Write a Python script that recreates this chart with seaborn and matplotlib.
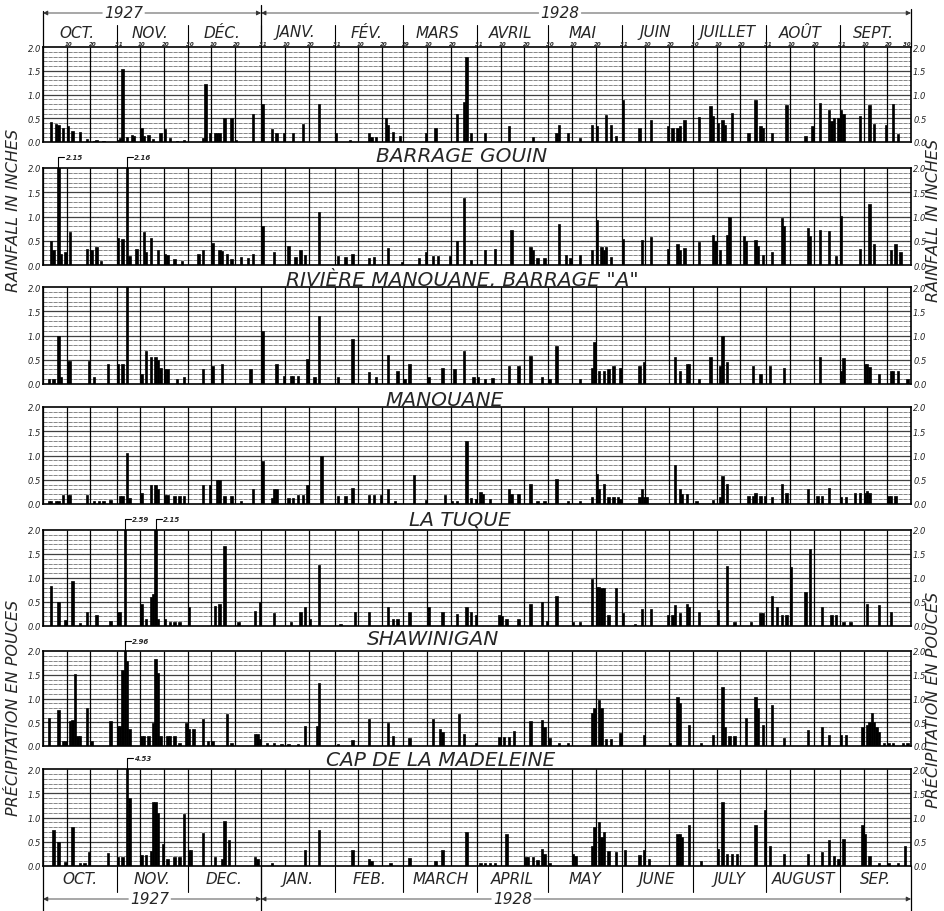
import matplotlib
matplotlib.use("Agg")
import matplotlib.pyplot as plt
import matplotlib.transforms as mtransforms
import numpy as np
import pandas as pd
import seaborn as sns

# day 0 = 1 Oct 1927 ... day 365 = 30 Sep 1928, values in inches
month_len = [31, 30, 31, 31, 29, 31, 30, 31, 30, 31, 31, 30]
months_fr = ["OCT.", "NOV.", "DÉC.", "JANV.", "FÉV.", "MARS", "AVRIL", "MAI",
             "JUIN", "JUILLET", "AOÛT", "SEPT."]
months_en = ["OCT.", "NOV.", "DEC.", "JAN.", "FEB.", "MARCH", "APRIL", "MAY",
             "JUNE", "JULY", "AUGUST", "SEP."]

top_station = [
    (3, .42), (5, .38), (6, .36), (8, .30), (10, .33), (12, .24), (15, .22), (18, .07),
    (21, .03), (22, .04), (25, .02), (31, .05), (32, .08), (33, 1.53), (35, .10), (37, .15),
    (38, .12), (41, .29), (42, .12), (44, .15), (46, .06), (49, .19), (51, .28), (53, .08),
    (56, .03), (59, .05), (67, .08), (68, 1.23), (70, .19), (72, .19), (73, .19), (74, .19),
    (76, .50), (79, .50), (81, .05), (88, .58), (92, .80), (96, .28), (98, .19), (101, .19),
    (105, .19), (109, .37), (116, .79), (123, .19), (129, .05), (137, .19), (138, .10),
    (140, .10), (144, .50), (145, .35), (147, .22), (150, .12), (161, .19), (165, .29),
    (174, .58), (177, .84), (178, 1.79), (180, .19), (186, .18), (196, .33), (206, .10),
    (216, .19), (217, .36), (221, .20), (226, .09), (231, .36), (233, .33), (237, .57),
    (239, .36), (241, .12), (244, .88), (251, .29), (256, .47), (263, .33), (265, .30),
    (267, .30), (268, .33), (270, .47), (276, .53), (281, .75), (282, .55), (284, .40),
    (286, .47), (287, .35), (290, .62), (297, .19), (300, .88), (302, .34), (303, .30),
    (307, .19), (313, .77), (321, .12), (324, .33), (327, .82), (331, .68), (332, .45),
    (333, .50), (335, .50), (336, .67), (337, .60), (344, .55), (348, .77), (350, .38),
    (355, .36), (358, .79), (360, .16),
]

barrage_gouin = [
    (3, .50), (4, .30), (6, 2.15), (7, .23), (9, .26), (11, .69), (18, .32), (20, .30),
    (22, .37), (24, .09), (31, .56), (33, .54), (35, 2.16), (36, .19), (39, .33), (42, .69),
    (43, .26), (45, .56), (48, .30), (51, .23), (52, .20), (55, .13), (58, .09), (65, .23),
    (67, .30), (71, .46), (74, .30), (75, .28), (77, .23), (79, .13), (83, .16), (86, .14),
    (88, .23), (92, .80), (97, .26), (103, .40), (106, .16), (108, .30), (110, .21),
    (116, 1.10), (124, .19), (127, .16), (130, .23), (137, .14), (139, .16), (145, .35),
    (151, .06), (158, .14), (161, .26), (164, .19), (166, .19), (171, .19), (174, .50),
    (177, 1.38), (180, .10), (186, .31), (190, .34), (197, .72), (205, .38), (206, .30),
    (208, .14), (211, .14), (217, .85), (220, .20), (222, .15), (226, .20), (231, .31),
    (233, .92), (235, .38), (236, .30), (237, .38), (239, .17), (244, .53), (252, .51),
    (256, .58), (263, .34), (267, .44), (268, .30), (270, .36), (276, .48), (282, .61),
    (283, .50), (285, .31), (288, .61), (289, 1.00), (295, .59), (296, .50), (300, .51),
    (301, .40), (303, .20), (307, .27), (311, .96), (312, .80), (322, .77), (323, .60),
    (327, .72), (331, .70), (334, .18), (336, 1.02), (344, .34), (348, 1.26), (350, .44),
    (357, .31), (359, .44), (361, .27),
]

manouane_barrage_a = [
    (2, .10), (4, .10), (6, 1.00), (7, .14), (10, .48), (11, .48), (19, .48), (21, .14),
    (27, .41), (31, .41), (33, .41), (35, 1.99), (41, .20), (43, .68), (45, .55), (47, .55),
    (48, .50), (49, .34), (51, .31), (52, .30), (56, .10), (59, .14), (67, .31), (71, .38),
    (75, .42), (87, .31), (92, 1.10), (98, .41), (101, .17), (104, .17), (105, .17),
    (107, .17), (111, .51), (114, .14), (116, 1.40), (124, .14), (130, .92), (137, .24),
    (140, .14), (145, .60), (149, .27), (152, .10), (154, .41), (162, .14), (168, .34),
    (173, .31), (177, .68), (181, .14), (183, .14), (186, .10), (189, .12), (196, .38),
    (200, .38), (205, .58), (210, .15), (213, .10), (216, .79), (226, .10), (231, .34),
    (232, .86), (234, .27), (236, .27), (238, .31), (240, .38), (243, .34), (251, .38),
    (253, .45), (266, .55), (268, .27), (271, .41), (272, .41), (276, .10), (281, .55),
    (285, .38), (286, .99), (288, .45), (299, .38), (302, .20), (306, .38), (312, .34),
    (327, .55), (336, .27), (337, .53), (346, .42), (347, .42), (348, .35), (352, .20),
    (357, .27), (358, .27), (360, .27), (364, .10),
]

manouane = [
    (2, .06), (3, .06), (5, .06), (6, .06), (8, .18), (10, .18), (11, .18), (18, .19),
    (21, .07), (23, .07), (25, .07), (28, .08), (32, .16), (33, .16), (35, 1.06), (36, .12),
    (41, .23), (45, .40), (47, .40), (48, .30), (51, .18), (52, .18), (55, .16), (57, .16),
    (59, .16), (67, .40), (70, .40), (73, .50), (74, .50), (76, .16), (79, .16), (83, .07),
    (88, .30), (92, .88), (96, .12), (97, .30), (98, .30), (103, .12), (105, .12), (107, .19),
    (109, .19), (111, .40), (117, .99), (124, .16), (127, .16), (130, .32), (137, .19),
    (139, .19), (142, .19), (145, .30), (148, .07), (156, .59), (161, .09), (169, .19),
    (172, .07), (174, .07), (178, 1.30), (180, .12), (182, .10), (184, .24), (185, .20),
    (188, .10), (196, .31), (197, .20), (200, .21), (205, .41), (208, .07), (211, .07),
    (216, .52), (221, .07), (226, .07), (231, .14), (233, .61), (234, .30), (236, .41),
    (238, .14), (240, .14), (242, .14), (243, .10), (251, .14), (252, .31), (253, .14),
    (254, .14), (266, .81), (268, .31), (269, .20), (271, .21), (275, .07), (282, .08),
    (285, .14), (286, .57), (288, .41), (297, .17), (299, .17), (300, .22), (302, .17),
    (304, .17), (307, .14), (311, .41), (313, .22), (322, .31), (326, .17), (328, .17),
    (331, .33), (336, .14), (338, .14), (342, .22), (344, .22), (346, .22), (347, .26),
    (348, .22), (356, .17), (357, .17), (359, .17),
]

la_tuque = [
    (3, .84), (6, .51), (9, .12), (12, .94), (15, .07), (18, .29), (22, .23), (28, .10),
    (31, .29), (32, .29), (34, 2.59), (41, .46), (43, .15), (45, .60), (46, .66), (47, 2.15),
    (48, .15), (51, .15), (53, .08), (55, .08), (57, .08), (61, .39), (72, .42), (74, .46),
    (76, 1.66), (82, .08), (89, .32), (91, .51), (97, .27), (104, .08), (108, .30),
    (110, .39), (112, .15), (116, 1.28), (125, .05), (131, .30), (137, .29), (145, .39),
    (147, .15), (149, .15), (154, .30), (162, .39), (168, .30), (174, .25), (178, .39),
    (180, .29), (182, .22), (192, .23), (193, .20), (195, .15), (200, .14), (205, .46),
    (210, .50), (212, .10), (216, .62), (223, .08), (226, .08), (231, .98), (233, .81),
    (234, .81), (235, .79), (236, .79), (238, .22), (241, .79), (244, .28), (249, .05),
    (252, .36), (256, .36), (263, .22), (265, .22), (266, .44), (268, .28), (271, .46),
    (272, .40), (276, .29), (284, .34), (288, 1.24), (291, .08), (298, .08), (302, .28),
    (303, .28), (307, .63), (309, .40), (311, .22), (313, .22), (315, 1.22), (321, .70),
    (323, 1.60), (328, .39), (332, .22), (334, .22), (337, .08), (340, .08), (347, .46),
    (352, .44), (357, .30),
]

shawinigan = [
    (2, .58), (6, .76), (8, .10), (9, .10), (11, .53), (12, .55), (13, 1.51), (14, .21),
    (15, .21), (18, .79), (20, .10), (28, .53), (31, .42), (32, .42), (33, 1.60), (34, 2.96),
    (35, 1.80), (36, .35), (41, .21), (42, .21), (44, .21), (46, .49), (47, 1.84), (48, 1.54),
    (49, .21), (52, .21), (53, .21), (55, .21), (57, .07), (60, .49), (61, .35), (63, .35),
    (67, .56), (69, .10), (71, .10), (77, .67), (79, .07), (89, .25), (90, .25), (91, .15),
    (94, .07), (97, .07), (100, .05), (103, .05), (107, .05), (110, .42), (115, .42),
    (116, 1.33), (124, .04), (130, .12), (137, .56), (145, .49), (147, .21), (154, .17),
    (164, .56), (167, .35), (168, .30), (175, .67), (177, .25), (182, .07), (192, .19),
    (194, .19), (196, .19), (198, .31), (205, .52), (210, .55), (211, .40), (213, .17),
    (217, .07), (221, .07), (231, .69), (232, .80), (234, .97), (235, .80), (237, .14),
    (239, .14), (243, .28), (253, .24), (264, .07), (267, 1.03), (268, .90), (272, .45),
    (277, .07), (282, .24), (286, 1.24), (287, .40), (289, .21), (291, .21), (296, .59),
    (300, 1.03), (301, .80), (303, .45), (307, .86), (312, .17), (322, .34), (328, .41),
    (331, .24), (336, .24), (338, .24), (345, .40), (347, .45), (348, .50), (349, .69),
    (350, .50), (351, .40), (352, .30), (354, .07), (356, .07), (358, .07), (362, .07),
    (364, .07),
]

cap_de_la_madeleine = [
    (4, .74), (6, .50), (9, .09), (12, .80), (15, .07), (17, .07), (19, .29), (27, .26),
    (31, .19), (33, .19), (35, 4.53), (36, 1.40), (41, .23), (43, .23), (45, .30), (46, 1.32),
    (47, 1.32), (48, 1.10), (50, .46), (52, .15), (55, .19), (57, .19), (59, 1.08), (61, .34),
    (62, .34), (67, .68), (72, .19), (75, .15), (76, .93), (78, .53), (89, .19), (90, .15),
    (96, .07), (110, .33), (116, .75), (130, .33), (137, .14), (138, .10), (146, .07),
    (154, .16), (165, .10), (168, .33), (178, .70), (184, .07), (186, .07), (188, .07),
    (190, .07), (195, .66), (203, .18), (204, .18), (206, .18), (208, .12), (210, .36),
    (211, .25), (213, .07), (223, .25), (224, .20), (231, .42), (232, .80), (234, .90),
    (235, .60), (236, .70), (238, .30), (241, .29), (245, .32), (251, .22), (253, .32),
    (255, .15), (267, .66), (268, .66), (269, .60), (272, .85), (277, .10), (284, .36),
    (286, 1.32), (288, .25), (290, .25), (292, .25), (300, .85), (304, 1.16), (306, .42),
    (312, .25), (322, .25), (328, .29), (331, .53), (333, .20), (335, .15), (337, .56),
    (345, .84), (346, .66), (348, .20), (352, .07), (356, .07), (360, .07), (363, .42),
]

panels = [
    ("", top_station),
    ("BARRAGE GOUIN", barrage_gouin),
    ('RIVIÈRE MANOUANE, BARRAGE "A"', manouane_barrage_a),
    ("MANOUANE", manouane),
    ("LA TUQUE", la_tuque),
    ("SHAWINIGAN", shawinigan),
    ("CAP DE LA MADELEINE", cap_de_la_madeleine),
]

sns.set_theme(style="white")
plt.rcParams["font.family"] = ["DejaVu Sans"]
plt.rcParams["font.style"] = "italic"

W, H = 944, 912
X0, X1 = 43, 911
tops = [48, 169, 288, 408, 531, 652, 770]
bottoms = [143, 266, 385, 505, 627, 747, 867]
title_xy = [None, (462, 157), (462, 280), (445, 400), (460, 520), (433, 640), (441, 760)]


def fy(py):
    return 1 - py / H


month_starts = list(np.cumsum([0] + month_len))
vgrid = sorted(set(month_starts + [s + 10 for s in month_starts[:-1]]
                   + [s + 20 for s in month_starts[:-1]]))

fig = plt.figure(figsize=(W / 100, H / 100), dpi=100)
axes = []
for i, (name, data) in enumerate(panels):
    ax = fig.add_axes([X0 / W, fy(bottoms[i]), (X1 - X0) / W, (bottoms[i] - tops[i]) / H])
    df = pd.DataFrame(data, columns=["day", "inches"])
    df["x"] = df["day"] + 0.5
    sns.barplot(data=df, x="x", y="inches", native_scale=True, color="black",
                saturation=1, width=1.0, errorbar=None, linewidth=0.5,
                edgecolor="black", ax=ax, zorder=3)
    ax.set_xlim(0, 366)
    ax.set_ylim(0, 2.0)
    ax.set_xlabel("")
    ax.set_ylabel("")
    ax.hlines(np.arange(0.1, 2.0, 0.1), 0, 366, colors="0.45", lw=0.6,
              linestyles=(0, (5, 1)), zorder=1)
    ax.hlines([0.5, 1.0, 1.5], 0, 366, colors="0.25", lw=0.9, zorder=1)
    ax.vlines(vgrid, 0, 2.0, colors="black", lw=0.9, zorder=2)
    ax.set_xticks([])
    ax.set_yticks([0, 0.5, 1.0, 1.5, 2.0])
    ax.set_yticklabels(["0.0", "0.5", "1.0", "1.5", "2.0"], fontsize=6)
    ax.tick_params(axis="y", left=False, right=False, labelleft=True, labelright=True,
                   pad=1.5, length=0)
    for sp in ax.spines.values():
        sp.set_visible(True)
        sp.set_color("black")
        sp.set_linewidth(1.2)
    # values beyond the 2.0 scale
    for d, v in data:
        if v > 2.0:
            x = d + 0.5
            ax.plot([x, x, x + 2.5], [2.0, 2.22, 2.22], color="black", lw=0.8,
                    clip_on=False, zorder=4)
            ax.text(x + 3, 2.22, f"{v:.2f}", fontsize=5, fontweight="bold",
                    va="center", ha="left", clip_on=False)
    if name:
        fig.text(title_xy[i][0] / W, fy(title_xy[i][1]), name, fontsize=14.5,
                 ha="center", va="center")
    axes.append(ax)

# day numbers along the top
ax_top = axes[0]
for s, n in zip(month_starts[:-1], month_len):
    for off, lab in [(10, "10"), (20, "20"), (n, str(n))]:
        last = s + off == 366
        ax_top.text(s + off - (0.3 if last else -0.8), 2.02, lab, fontsize=4,
                    fontweight="bold", ha="right" if last else "center",
                    va="bottom", clip_on=False)

# month and year headers, top (French) and bottom (English)
t_top = mtransforms.blended_transform_factory(ax_top.transData, fig.transFigure)
ax_bot = axes[-1]
t_bot = mtransforms.blended_transform_factory(ax_bot.transData, fig.transFigure)

for s, n, fr, en in zip(month_starts[:-1], month_len, months_fr, months_en):
    ax_top.text(s + n / 2 - 1, fy(33), fr, transform=t_top, fontsize=11,
                ha="center", va="center")
    ax_bot.text(s + n / 2, fy(880), en, transform=t_bot, fontsize=11,
                ha="center", va="center")
for s in month_starts[1:-1]:
    ax_top.plot([s, s], [fy(26), fy(48)], transform=t_top, color="black", lw=0.8,
                clip_on=False)
    ax_bot.plot([s, s], [fy(867), fy(893)], transform=t_bot, color="black", lw=0.8,
                clip_on=False)
for s, y0 in [(0, 12), (92, 6), (366, 10)]:
    ax_top.plot([s, s], [fy(y0), fy(48)], transform=t_top, color="black", lw=0.9,
                clip_on=False)
    ax_bot.plot([s, s], [fy(867), fy(912)], transform=t_bot, color="black", lw=0.9,
                clip_on=False)

year_spans = {
    "top": [("1927", 34, 0, 92, 14), ("1928", 218, 92, 366, 14)],
    "bot": [("1927", 45, 0, 92, 900), ("1928", 198, 92, 366, 900)],
}
for key, ax_, tr in [("top", ax_top, t_top), ("bot", ax_bot, t_bot)]:
    for lab, xc, a, b, py in year_spans[key]:
        ax_.text(xc, fy(py), lab, transform=tr, fontsize=11, ha="center", va="center")
        for x_from, x_to in [(xc - 9, a), (xc + 9, b)]:
            ax_.annotate("", xy=(x_to, fy(py)), xytext=(x_from, fy(py)),
                         xycoords=tr, textcoords=tr,
                         arrowprops=dict(arrowstyle="-|>", lw=0.6, color="0.2",
                                         mutation_scale=7, shrinkA=0, shrinkB=0))

# side labels
for x_px, y_px, txt in [(14, 210, "RAINFALL IN INCHES"), (14, 708, "PRÉCIPITATION EN POUCES"),
                        (934, 220, "RAINFALL IN INCHES"), (934, 700, "PRÉCIPITATION EN POUCES")]:
    fig.text(x_px / W, fy(y_px), txt, rotation=90, fontsize=11.5, ha="center", va="center")

fig.savefig("out.png", dpi=100, facecolor="white")
